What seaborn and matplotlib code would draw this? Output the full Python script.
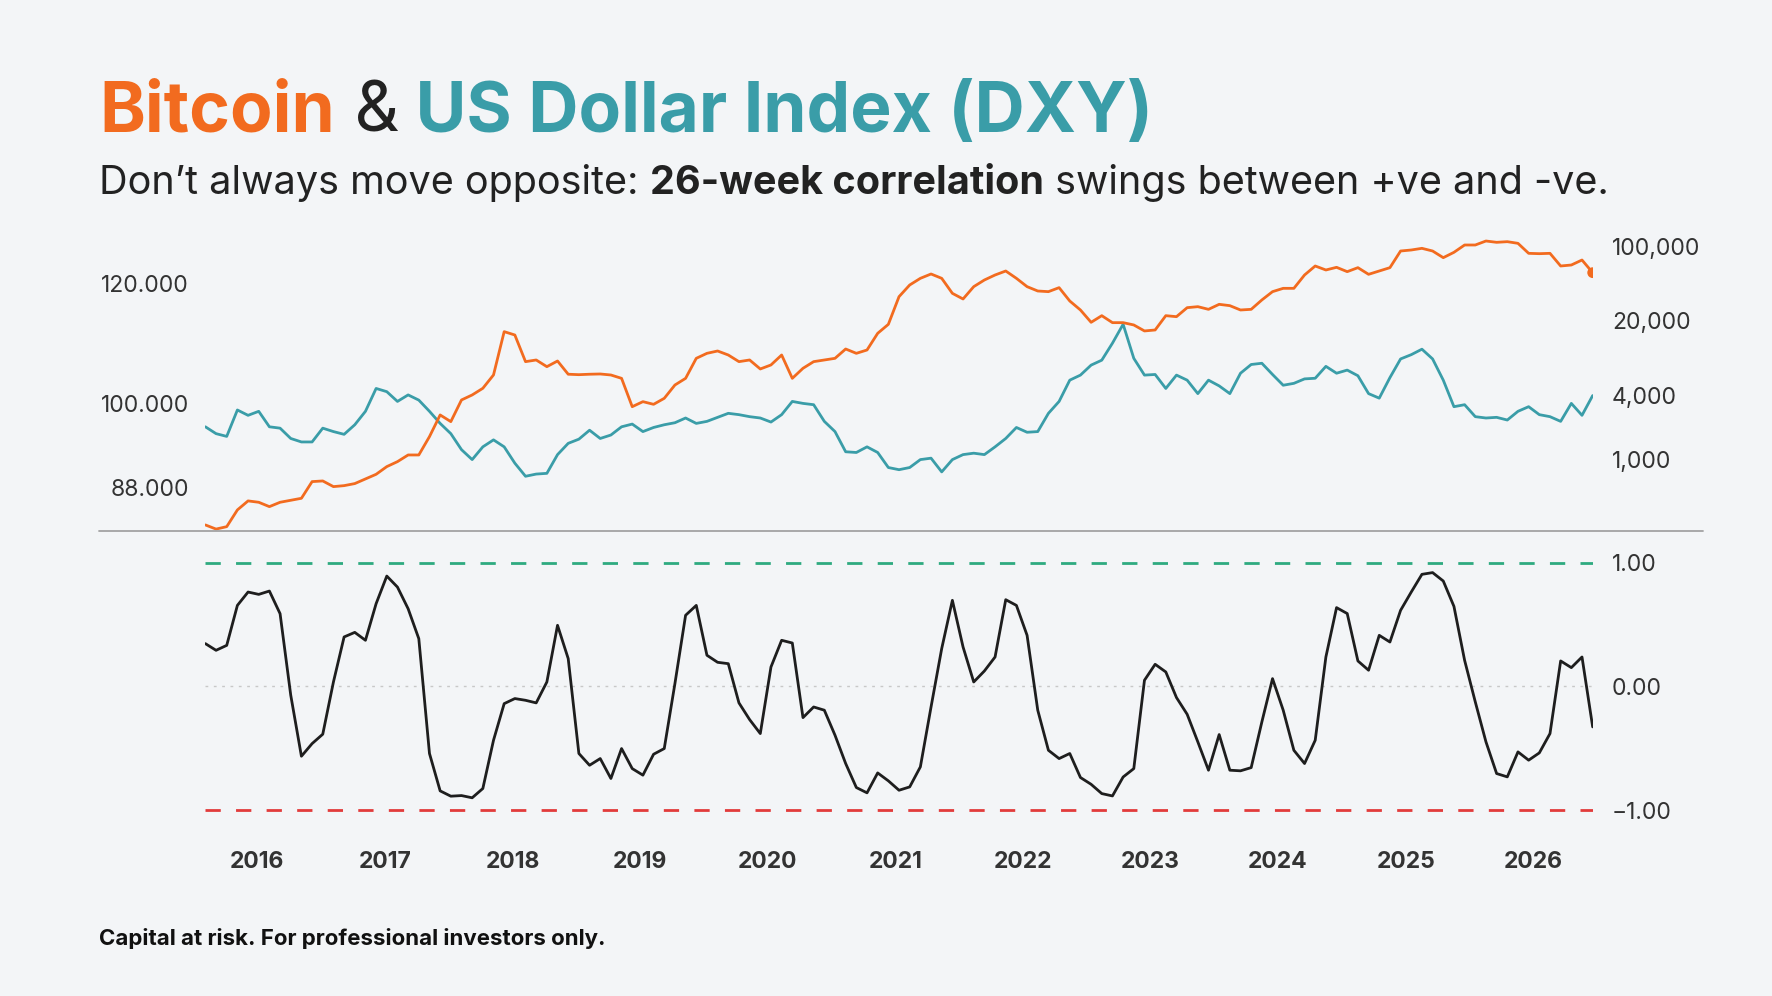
import matplotlib
matplotlib.use("Agg")
import matplotlib.pyplot as plt
from matplotlib.lines import Line2D
from matplotlib.ticker import NullLocator
import pandas as pd
import seaborn as sns

# ---------------------------------------------------------------------------
# Data (monthly readings, Aug 2015 -> mid 2026)
# ---------------------------------------------------------------------------
dxy = [96.5, 95.5, 95.1, 99.0, 98.2, 98.8, 96.5, 96.3, 94.8, 94.3, 94.3, 96.3,
       95.8, 95.4, 96.8, 98.8, 102.3, 101.8, 100.3, 101.3, 100.5, 98.8, 97.0,
       95.5, 93.2, 91.8, 93.6, 94.6, 93.6, 91.3, 89.5, 89.8, 89.9, 92.5, 94.1,
       94.7, 96.0, 94.8, 95.3, 96.5, 96.9, 95.8, 96.4, 96.8, 97.1,
       97.8, 97.0, 97.3, 97.9, 98.5, 98.3, 98.0, 97.8, 97.2, 98.3, 100.3,
       100.0, 99.8, 97.3, 95.8, 92.9, 92.8, 93.6, 92.8, 90.7, 90.4, 90.7, 91.8,
       92.0, 90.1, 91.8, 92.5, 92.7, 92.5, 93.6, 94.8, 96.4, 95.7, 95.8, 98.5,
       100.3, 103.6, 104.4, 106.0, 106.8, 109.6, 112.8, 107.1, 104.4,
       104.5, 102.3, 104.4, 103.6, 101.5, 103.6, 102.7, 101.5, 104.7, 106.1,
       106.3, 104.5, 102.8, 103.1, 103.8, 103.9, 105.8, 104.7, 105.2, 104.3,
       101.5, 100.8, 104.0, 107.0, 107.7, 108.6, 107.0, 103.6, 99.5, 99.8,
       98.0, 97.8, 97.9, 97.5, 98.8, 99.5, 98.3, 98.0, 97.3, 100.0, 98.2, 101.2]

btc = [246, 225, 237, 340, 413, 401, 365, 401, 419, 437, 626, 635, 562, 574,
       600, 663, 733, 865, 963, 1112, 1112, 1652, 2635, 2282, 3640, 4055, 4682,
       6243, 15880, 14770, 8316, 8620, 7464, 8433, 6340, 6280, 6340, 6374, 6237,
       5803, 3150, 3510, 3314, 3771, 5026,
       5802, 8933, 9950, 10465, 9598, 8316, 8620, 7101, 7743, 9598, 5802, 7205,
       8316, 8620, 8933, 10925, 9950, 10690, 15318, 18590, 33760, 43420, 50130,
       55050, 50130, 36270, 32110, 41890, 48360, 53870, 58710, 50130, 41890,
       38150, 37610, 41000, 30750, 25330, 19420, 22410, 19280, 19280, 18340,
       16120,
       16460, 22410, 21930, 26630, 27210, 25690, 28620, 27810, 25330, 25690,
       31440, 37610, 40400, 40400, 53870, 65410, 60000, 63560, 57880, 63090,
       54650, 58710, 63090, 90360, 92340, 95720, 90360, 78270, 87820, 102850,
       102850, 112100, 108950, 110500, 106600, 85930, 85310, 85930, 65410,
       66810, 74400, 56640]

corr = [0.346, 0.292, 0.332, 0.655, 0.763, 0.744, 0.771, 0.588, -0.071, -0.564,
        -0.462, -0.386, 0.036, 0.400, 0.437, 0.373, 0.669, 0.892, 0.803, 0.628,
        0.386, -0.542, -0.844, -0.887, -0.882, -0.900, -0.825, -0.435, -0.139,
        -0.098, -0.112, -0.133, 0.036, 0.494, 0.225, -0.542, -0.637, -0.583,
        -0.744, -0.502, -0.664, -0.717, -0.548, -0.502, 0.023,
        0.575, 0.655, 0.252, 0.195, 0.184, -0.133, -0.268, -0.381, 0.157, 0.373,
        0.351, -0.252, -0.166, -0.192, -0.394, -0.623, -0.817, -0.860, -0.699,
        -0.763, -0.839, -0.812, -0.650, -0.166, 0.306, 0.696, 0.319, 0.036,
        0.125, 0.238, 0.701, 0.655, 0.413, -0.192, -0.516, -0.583, -0.542,
        -0.736, -0.791, -0.866, -0.885, -0.732, -0.664, 0.050,
        0.179, 0.117, -0.090, -0.225, -0.448, -0.677, -0.389, -0.677, -0.682,
        -0.656, -0.287, 0.063, -0.192, -0.516, -0.623, -0.435, 0.238, 0.637,
        0.589, 0.206, 0.131, 0.413, 0.359, 0.615, 0.763, 0.906, 0.920, 0.852,
        0.647, 0.211, -0.125, -0.448, -0.704, -0.731, -0.529, -0.596, -0.537,
        -0.381, 0.206, 0.152, 0.238, -0.327]

dates = pd.date_range("2015-08-05", "2026-06-20", periods=len(corr))

years = list(range(2016, 2027))
dxy_ticks = [88, 100, 120]
dxy_labels = ["88.000", "100.000", "120.000"]
btc_ticks = [1000, 4000, 20000, 100000]
btc_labels = ["1,000", "4,000", "20,000", "100,000"]
corr_ticks = [-1, 0, 1]
corr_labels = ["\u22121.00", "0.00", "1.00"]

df = pd.DataFrame({"date": dates, "dxy": dxy, "btc": btc, "corr": corr})

# ---------------------------------------------------------------------------
# Style
# ---------------------------------------------------------------------------
BG = "#F3F5F7"
ORANGE = "#F26B1F"
TEAL = "#3A9DA8"
DARK = "#222222"
GREEN = "#2EAA80"
RED = "#E23B3B"

sns.set_theme(style="white", rc={"axes.facecolor": BG, "figure.facecolor": BG})
plt.rcParams["font.family"] = ["Inter", "DejaVu Sans"]

fig = plt.figure(figsize=(17.72, 9.96), dpi=100)
fig.patch.set_facecolor(BG)

L, W = 0.1159, 0.7829
ax_dxy = fig.add_axes([L, 0.4669, W, 0.3072])
ax_btc = ax_dxy.twinx()
ax_corr = fig.add_axes([L, 0.1667, W, 0.2861])

# Upper panel: DXY (left, log) + BTC (right, log)
sns.lineplot(data=df, x="date", y="dxy", ax=ax_dxy, color=TEAL, linewidth=2.0)
sns.lineplot(data=df, x="date", y="btc", ax=ax_btc, color=ORANGE, linewidth=2.0)
sns.scatterplot(x=[dates[-1]], y=[btc[-1]], ax=ax_btc, color=ORANGE, s=60,
                edgecolor="none", zorder=5)

ax_dxy.set_yscale("log")
ax_dxy.set_ylim(82.35, 131.2)
ax_dxy.set_yticks(dxy_ticks)
ax_dxy.set_yticklabels(dxy_labels)
ax_dxy.yaxis.set_minor_locator(NullLocator())

ax_btc.set_yscale("log")
ax_btc.set_ylim(216, 158300)
ax_btc.set_yticks(btc_ticks)
ax_btc.set_yticklabels(btc_labels)
ax_btc.yaxis.set_minor_locator(NullLocator())
ax_btc.patch.set_visible(False)

for ax in (ax_dxy, ax_btc):
    ax.set_xlim(dates[0], dates[-1])
    ax.set_xticks([])
    ax.set_xlabel("")
    ax.set_ylabel("")
    for s in ax.spines.values():
        s.set_visible(False)
ax_dxy.tick_params(axis="y", length=0, pad=12, labelsize=16.5, labelcolor="#333333")
ax_btc.tick_params(axis="y", length=0, pad=14, labelsize=16.5, labelcolor="#333333")

# Lower panel: 26-week correlation
ax_corr.axhline(1, color=GREEN, linewidth=2, dashes=(5.5, 5.5))
ax_corr.axhline(-1, color=RED, linewidth=2, dashes=(5.5, 5.5))
ax_corr.axhline(0, color="#C8C8C8", linewidth=1, dashes=(2, 4))
sns.lineplot(data=df, x="date", y="corr", ax=ax_corr, color="#1E1E1E", linewidth=2.0)

ax_corr.set_xlim(dates[0], dates[-1])
ax_corr.set_ylim(-1.16, 1.143)
ax_corr.yaxis.tick_right()
ax_corr.set_yticks(corr_ticks)
ax_corr.set_yticklabels(corr_labels)
ax_corr.set_xticks([pd.Timestamp(f"{y}-01-01") for y in years])
ax_corr.set_xticklabels([str(y) for y in years], fontweight="bold")
ax_corr.set_xlabel("")
ax_corr.set_ylabel("")
ax_corr.tick_params(axis="y", length=0, pad=14, labelsize=16.5, labelcolor="#333333")
ax_corr.tick_params(axis="x", length=0, pad=15, labelsize=16.5, labelcolor="#333333")
for s in ax_corr.spines.values():
    s.set_visible(False)

# Separator between panels
fig.add_artist(Line2D([99 / 1772, 1703 / 1772], [1 - 531 / 996] * 2,
                      color="#A3A3A3", linewidth=1.3))

# ---------------------------------------------------------------------------
# Titles and footer
# ---------------------------------------------------------------------------
ax_bg = fig.add_axes([0, 0, 1, 1], zorder=-1)
ax_bg.axis("off")

t1 = ax_bg.text(0.0559, 0.8675, "Bitcoin", color=ORANGE, fontsize=50,
                fontweight="bold", va="baseline", ha="left")
t2 = ax_bg.annotate(" &", xy=(1, 0), xycoords=t1, va="bottom", ha="left",
                    color=DARK, fontsize=50)
ax_bg.annotate(" US Dollar Index (DXY)", xy=(1, 0), xycoords=t2, va="bottom",
               ha="left", color=TEAL, fontsize=50, fontweight="bold")

s1 = ax_bg.text(0.0559, 0.805, "Don\u2019t always move opposite: ", color=DARK,
                fontsize=28.5, va="baseline", ha="left")
s2 = ax_bg.annotate("26-week correlation", xy=(1, 0), xycoords=s1, va="bottom",
                    ha="left", color=DARK, fontsize=28.5, fontweight="bold")
ax_bg.annotate(" swings between +ve and -ve.", xy=(1, 0), xycoords=s2,
               va="bottom", ha="left", color=DARK, fontsize=28.5)

ax_bg.text(0.0559, 0.0512, "Capital at risk. For professional investors only.",
           color="#111111", fontsize=16, fontweight="bold", va="baseline",
           ha="left")

fig.savefig("out.png", dpi=100, facecolor=BG)
